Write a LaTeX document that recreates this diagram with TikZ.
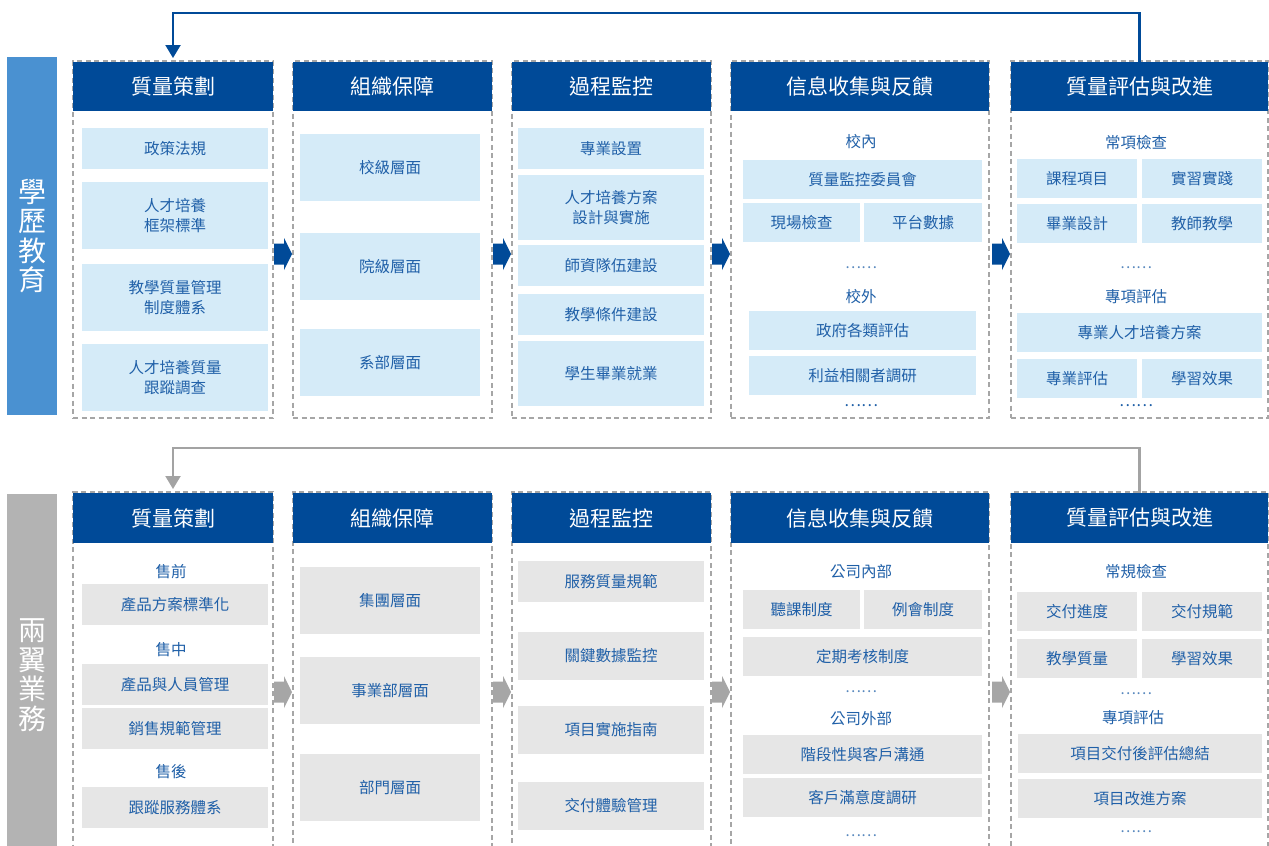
\documentclass[tikz,border=0pt]{standalone}
\usepackage{fontspec}
\setmainfont{Noto Sans CJK TC}
\usetikzlibrary{arrows.meta}
\definecolor{hdr}{HTML}{004A98}
\definecolor{sidebl}{HTML}{4A91D1}
\definecolor{sidegr}{HTML}{B3B3B3}
\definecolor{lblue}{HTML}{D5EBF8}
\definecolor{lgray}{HTML}{E6E6E6}
\definecolor{txt}{HTML}{2060A8}
\definecolor{dashc}{HTML}{A6A6A6}
\definecolor{arrbl}{HTML}{004A98}
\definecolor{arrgr}{HTML}{A6A6A6}
\definecolor{fbgr}{HTML}{A3A3A3}
\begin{document}
\begin{tikzpicture}[x=1pt,y=-1pt,
 corners/.style args={#1,#2,#3,#4}{at={({(#1+#3)/2},{(#2+#4)/2})}, minimum width={(#3-#1)*1pt}, minimum height={(#4-#2)*1pt}},
 outline/.style={draw=dashc, line width=1.2pt, dash pattern=on 5pt off 3.5pt, inner sep=0pt, outer sep=0pt},
 hdrbox/.style={fill=hdr, text=white, inner sep=0pt, outer sep=0pt, font=\fontsize{21}{24}\selectfont},
 bluebox/.style={fill=lblue, text=txt, inner sep=0pt, outer sep=0pt, align=center, font=\fontsize{15.5}{20}\selectfont},
 graybox/.style={bluebox, fill=lgray},
 lab/.style={text=txt, inner sep=0pt, font=\fontsize{15.5}{20}\selectfont},
 dotsl/.style={text=txt!75, inner sep=0pt, font=\fontsize{15}{18}\selectfont},
 dotsd/.style={text=txt, inner sep=0pt, font=\fontsize{16}{18}\selectfont},
 sidebar/.style={text=white, inner sep=0pt, outer sep=0pt, align=center, font=\fontsize{28}{29.5}\selectfont},
 fbblue/.style={draw=arrbl, line width=2.2pt, -{Triangle[width=15pt,length=13pt]}},
 fbgray/.style={draw=fbgr, line width=2.2pt, -{Triangle[width=15pt,length=13pt]}},
 barrow/.pic={\path[pic actions] (0,-10.5) -- (10,-10.5) -- (10,-16) -- (18,0) -- (10,16) -- (10,10.5) -- (0,10.5) -- cycle;},
]
\useasboundingbox (0,0) rectangle (1269,846);
\clip (0,0) rectangle (1269,846);
\fill[white] (0,0) rectangle (1269,846);

% ===================== Row 1 =====================
\node[fill=sidebl, sidebar, corners={7,57,57,415}] (sb1) {學\\歷\\教\\育};

\node[outline, corners={73,61,273,418}] (c11) {};
\node[outline, corners={293,61,492,418}] (c12) {};
\node[outline, corners={512,61,711,418}] (c13) {};
\node[outline, corners={731,61,989,418}] (c14) {};
\node[outline, corners={1011,61,1268,418}] (c15) {};

\node[hdrbox, corners={73,62,273,111}] (h11) {質量策劃};
\node[hdrbox, corners={293,62,492,111}] (h12) {組織保障};
\node[hdrbox, corners={512,62,711,111}] (h13) {過程監控};
\node[hdrbox, corners={731,62,989,111}] (h14) {信息收集與反饋};
\node[hdrbox, corners={1011,62,1268,111}] (h15) {質量評估與改進};

% column 1
\node[bluebox, corners={82,128,268,169}] (b11a) {政策法規};
\node[bluebox, corners={82,182,268,249}] (b11b) {人才培養\\框架標準};
\node[bluebox, corners={82,264,268,331}] (b11c) {教學質量管理\\制度體系};
\node[bluebox, corners={82,344,268,411}] (b11d) {人才培養質量\\跟蹤調查};
% column 2
\node[bluebox, corners={300,134,480,201}] (b12a) {校級層面};
\node[bluebox, corners={300,233,480,300}] (b12b) {院級層面};
\node[bluebox, corners={300,329,480,396}] (b12c) {系部層面};
% column 3
\node[bluebox, corners={518,128,704,169}] (b13a) {專業設置};
\node[bluebox, corners={518,175,704,240}] (b13b) {人才培養方案\\設計與實施};
\node[bluebox, corners={518,245,704,286}] (b13c) {師資隊伍建設};
\node[bluebox, corners={518,294,704,335}] (b13d) {教學條件建設};
\node[bluebox, corners={518,341,704,406}] (b13e) {學生畢業就業};
% column 4
\node[lab] (l14a) at (861,142) {校內};
\node[bluebox, corners={743,160,982,199}] (b14a) {質量監控委員會};
\node[bluebox, corners={743,203,860,242}] (b14b) {現場檢查};
\node[bluebox, corners={864,203,982,242}] (b14c) {平台數據};
\node[dotsl] (d14a) at (861,268) {……};
\node[lab] (l14b) at (861,297) {校外};
\node[bluebox, corners={749,311,976,350}] (b14d) {政府各類評估};
\node[bluebox, corners={749,356,976,395}] (b14e) {利益相關者調研};
\node[dotsd] (d14b) at (861,406) {……};
% column 5
\node[lab] (l15a) at (1136,143) {常項檢查};
\node[bluebox, corners={1017,159,1137,198}] (b15a) {課程項目};
\node[bluebox, corners={1142,159,1262,198}] (b15b) {實習實踐};
\node[bluebox, corners={1017,204,1137,243}] (b15c) {畢業設計};
\node[bluebox, corners={1142,204,1262,243}] (b15d) {教師教學};
\node[dotsl] (d15a) at (1136,268) {……};
\node[lab] (l15b) at (1136,297) {專項評估};
\node[bluebox, corners={1017,313,1262,352}] (b15e) {專業人才培養方案};
\node[bluebox, corners={1017,359,1137,398}] (b15f) {專業評估};
\node[bluebox, corners={1142,359,1262,398}] (b15g) {學習效果};
\node[dotsd] (d15b) at (1136,406) {……};

% block arrows row 1
\pic[fill=arrbl] at (274,254) {barrow};
\pic[fill=arrbl] at (493,254) {barrow};
\pic[fill=arrbl] at (712,254) {barrow};
\pic[fill=arrbl] at (992,254) {barrow};

% feedback row 1
\draw[fbblue] (h15.north) -- ++(0,-49) -| ([yshift=4pt]h11.north);

% ===================== Row 2 =====================
\node[fill=sidegr, sidebar, corners={7,494,57,856}] (sb2) {兩\\翼\\業\\務};

\node[outline, corners={73,492,273,870}] (c21) {};
\node[outline, corners={293,492,492,870}] (c22) {};
\node[outline, corners={512,492,711,870}] (c23) {};
\node[outline, corners={731,492,989,870}] (c24) {};
\node[outline, corners={1011,492,1268,870}] (c25) {};

\node[hdrbox, corners={73,493,273,543}] (h21) {質量策劃};
\node[hdrbox, corners={293,493,492,543}] (h22) {組織保障};
\node[hdrbox, corners={512,493,711,543}] (h23) {過程監控};
\node[hdrbox, corners={731,493,989,543}] (h24) {信息收集與反饋};
\node[hdrbox, corners={1011,493,1268,543}] (h25) {質量評估與改進};

% column 1
\node[lab] (l21a) at (171,572) {售前};
\node[graybox, corners={82,584,268,625}] (b21a) {產品方案標準化};
\node[lab] (l21b) at (171,650) {售中};
\node[graybox, corners={82,664,268,705}] (b21b) {產品與人員管理};
\node[graybox, corners={82,708,268,749}] (b21c) {銷售規範管理};
\node[lab] (l21c) at (171,772) {售後};
\node[graybox, corners={82,787,268,828}] (b21d) {跟蹤服務體系};
% column 2
\node[graybox, corners={300,567,480,634}] (b22a) {集團層面};
\node[graybox, corners={300,657,480,724}] (b22b) {事業部層面};
\node[graybox, corners={300,754,480,821}] (b22c) {部門層面};
% column 3
\node[graybox, corners={518,561,704,602}] (b23a) {服務質量規範};
\node[graybox, corners={518,632,704,680}] (b23b) {關鍵數據監控};
\node[graybox, corners={518,706,704,754}] (b23c) {項目實施指南};
\node[graybox, corners={518,782,704,830}] (b23d) {交付體驗管理};
% column 4
\node[lab] (l24a) at (861,572) {公司內部};
\node[graybox, corners={743,590,860,629}] (b24a) {聽課制度};
\node[graybox, corners={864,590,982,629}] (b24b) {例會制度};
\node[graybox, corners={743,637,982,676}] (b24c) {定期考核制度};
\node[dotsl] (d24a) at (861,692) {……};
\node[lab] (l24b) at (861,719) {公司外部};
\node[graybox, corners={743,735,982,774}] (b24d) {階段性與客戶溝通};
\node[graybox, corners={743,778,982,817}] (b24e) {客戶滿意度調研};
\node[dotsl] (d24b) at (861,836) {……};
% column 5
\node[lab] (l25a) at (1136,572) {常規檢查};
\node[graybox, corners={1017,592,1137,631}] (b25a) {交付進度};
\node[graybox, corners={1142,592,1262,631}] (b25b) {交付規範};
\node[graybox, corners={1017,639,1137,678}] (b25c) {教學質量};
\node[graybox, corners={1142,639,1262,678}] (b25d) {學習效果};
\node[dotsl] (d25a) at (1136,694) {……};
\node[lab] (l25b) at (1133,718) {專項評估};
\node[graybox, corners={1018,734,1262,773}] (b25e) {項目交付後評估總結};
\node[graybox, corners={1018,779,1262,818}] (b25f) {項目改進方案};
\node[dotsl] (d25b) at (1136,832) {……};

% block arrows row 2
\pic[fill=arrgr] at (274,692) {barrow};
\pic[fill=arrgr] at (493,692) {barrow};
\pic[fill=arrgr] at (712,692) {barrow};
\pic[fill=arrgr] at (992,692) {barrow};

% feedback row 2
\draw[fbgray] (h25.north) -- ++(0,-45) -| ([yshift=4pt]h21.north);
\end{tikzpicture}
\end{document}
